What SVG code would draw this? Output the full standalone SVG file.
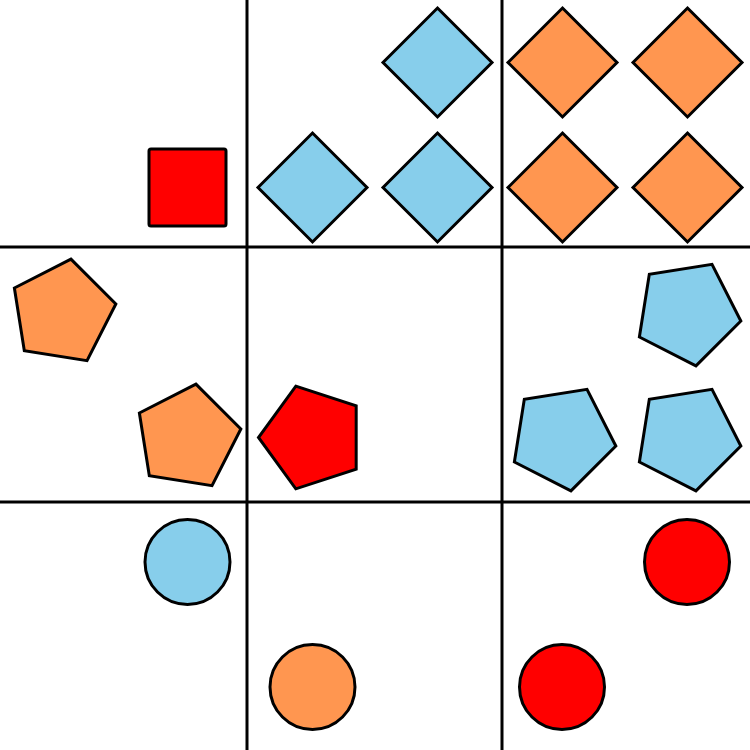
<svg xmlns="http://www.w3.org/2000/svg" xmlns:xlink="http://www.w3.org/1999/xlink" width="750" height="750" viewBox="0 0 750 750">
<style>
.s{stroke:#000;stroke-width:3;stroke-linejoin:miter}
.b{fill:#87CEEB}
.o{fill:#FF9650}
.r{fill:#FF0000}
.g{stroke:#000;stroke-width:3}
</style>
<defs>
<polygon id="pent" points="0,-54 51.36,-16.69 31.74,43.69 -31.74,43.69 -51.36,-16.69"/>
<polygon id="dia" points="0,-54.5 54.5,0 0,54.5 -54.5,0"/>
</defs>
<rect width="750" height="750" fill="#fff"/>
<g id="grid">
<line class="g" x1="247" y1="0" x2="247" y2="750"/>
<line class="g" x1="502" y1="0" x2="502" y2="750"/>
<line class="g" x1="0" y1="247" x2="750" y2="247"/>
<line class="g" x1="0" y1="502" x2="750" y2="502"/>
</g>
<g id="square1"><rect class="s r" x="149" y="149" width="77" height="77" rx="2"/></g>
<g id="diamond1"><use href="#dia" class="s b" transform="translate(437.5,62.5)"/></g>
<g id="diamond2"><use href="#dia" class="s b" transform="translate(312.5,187.5)"/></g>
<g id="diamond3"><use href="#dia" class="s b" transform="translate(437.5,187.5)"/></g>
<g id="diamond4"><use href="#dia" class="s o" transform="translate(562.5,62.5)"/></g>
<g id="diamond5"><use href="#dia" class="s o" transform="translate(687.5,62.5)"/></g>
<g id="diamond6"><use href="#dia" class="s o" transform="translate(562.5,187.5)"/></g>
<g id="diamond7"><use href="#dia" class="s o" transform="translate(687.5,187.5)"/></g>
<g id="pent1"><use href="#pent" class="s o" transform="translate(62.5,312.5) rotate(9)"/></g>
<g id="pent2"><use href="#pent" class="s o" transform="translate(187.5,437.5) rotate(9)"/></g>
<g id="pent3"><use href="#pent" class="s r" transform="translate(312.5,437.5) rotate(-18)"/></g>
<g id="pent4"><use href="#pent" class="s b" transform="translate(687.5,312.5) rotate(27)"/></g>
<g id="pent5"><use href="#pent" class="s b" transform="translate(562.5,437.5) rotate(27)"/></g>
<g id="pent6"><use href="#pent" class="s b" transform="translate(687.5,437.5) rotate(27)"/></g>
<g id="circle1"><circle class="s b" cx="187.5" cy="562" r="42.5"/></g>
<g id="circle2"><circle class="s o" cx="312.5" cy="687" r="42.5"/></g>
<g id="circle3"><circle class="s r" cx="687" cy="562" r="42.5"/></g>
<g id="circle4"><circle class="s r" cx="562" cy="687" r="42.5"/></g>
</svg>
